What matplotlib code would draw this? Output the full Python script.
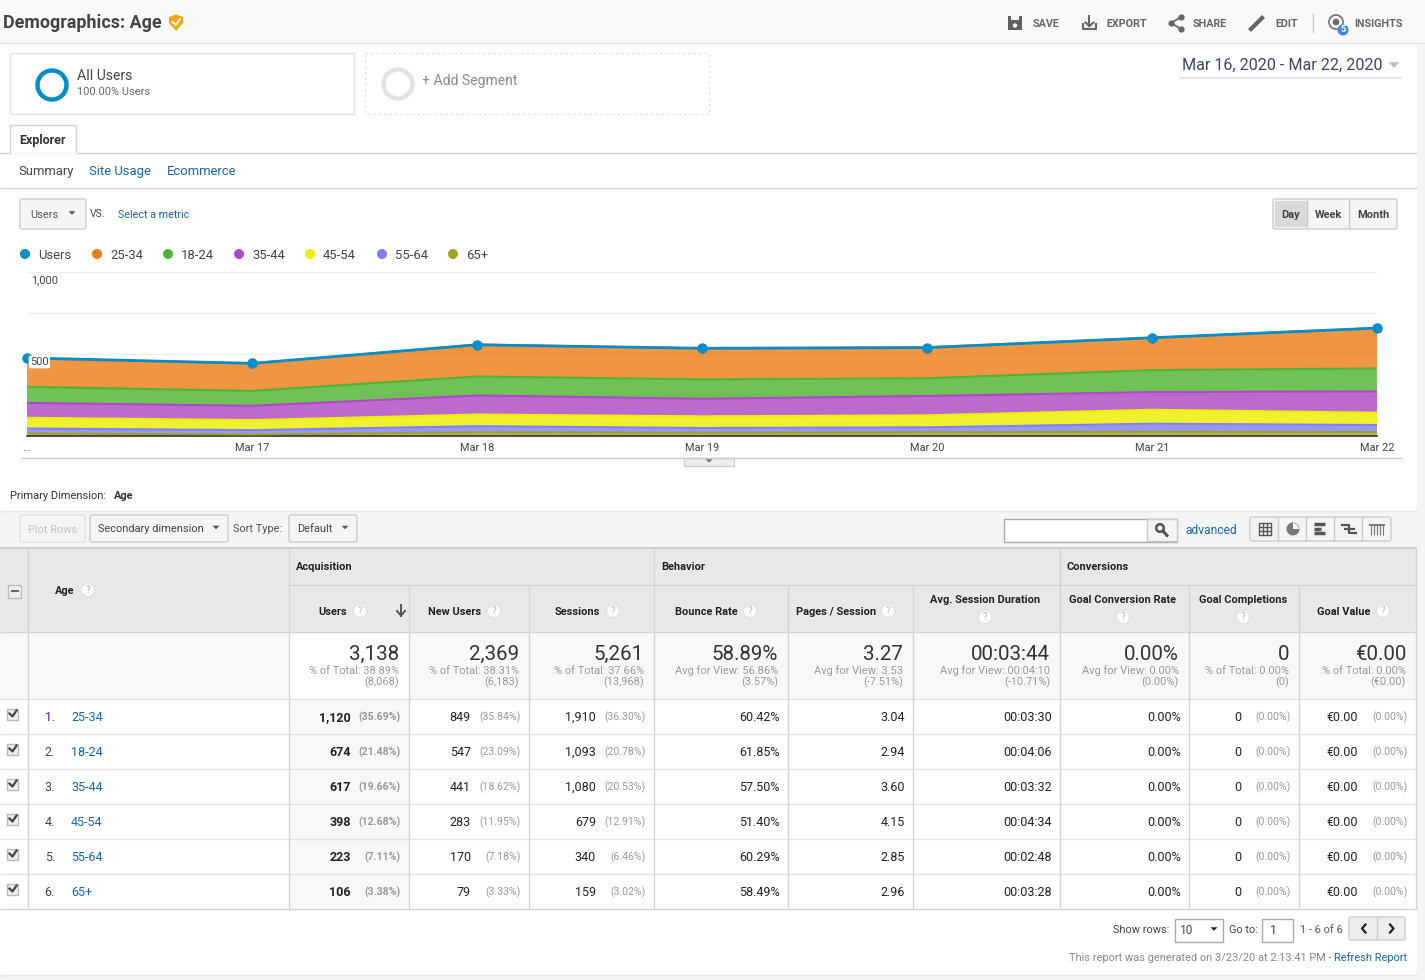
import matplotlib
matplotlib.use("Agg")
import matplotlib.pyplot as plt
from matplotlib.patches import Rectangle, Circle, Polygon, FancyBboxPatch, Wedge

plt.rcParams["font.family"] = ["Roboto", "DejaVu Sans"]

# chart data (stack order bottom to top)
dates = ["...", "Mar 17", "Mar 18", "Mar 19", "Mar 20", "Mar 21", "Mar 22"]
users = [476, 443, 556, 535, 539, 599, 658]
age_25_34 = [173, 167, 195, 189, 189, 197, 246]
age_18_24 = [98, 91, 116, 118, 108, 134, 140]
age_35_44 = [91, 87, 116, 107, 118, 108, 130]
age_45_54 = [65, 61, 71, 71, 73, 85, 75]
age_55_64 = [30, 26, 37, 29, 30, 49, 43]
age_65_up = [16, 10, 23, 20, 23, 26, 24]
legend_names = ["Users", "25-34", "18-24", "35-44", "45-54", "55-64", "65+"]

# table data
age_groups = ["25-34", "18-24", "35-44", "45-54", "55-64", "65+"]
col_users = ["1,120", "674", "617", "398", "223", "106"]
col_users_pct = ["(35.69%)", "(21.48%)", "(19.66%)", "(12.68%)", "(7.11%)", "(3.38%)"]
col_new = ["849", "547", "441", "283", "170", "79"]
col_new_pct = ["(35.84%)", "(23.09%)", "(18.62%)", "(11.95%)", "(7.18%)", "(3.33%)"]
col_sessions = ["1,910", "1,093", "1,080", "679", "340", "159"]
col_sessions_pct = ["(36.30%)", "(20.78%)", "(20.53%)", "(12.91%)", "(6.46%)", "(3.02%)"]
col_bounce = ["60.42%", "61.85%", "57.50%", "51.40%", "60.29%", "58.49%"]
col_pages = ["3.04", "2.94", "3.60", "4.15", "2.85", "2.96"]
col_duration = ["00:03:30", "00:04:06", "00:03:32", "00:04:34", "00:02:48", "00:03:28"]
col_rate = ["0.00%"] * 6
col_goals = ["0"] * 6
col_goals_pct = ["(0.00%)"] * 6
col_value = ["€0.00"] * 6
col_value_pct = ["(0.00%)"] * 6

total_big = ["3,138", "2,369", "5,261", "58.89%", "3.27", "00:03:44", "0.00%", "0", "€0.00"]
total_line1 = ["% of Total: 38.89%", "% of Total: 38.31%", "% of Total: 37.66%",
               "Avg for View: 56.86%", "Avg for View: 3.53", "Avg for View: 00:04:10",
               "Avg for View: 0.00%", "% of Total: 0.00%", "% of Total: 0.00%"]
total_line2 = ["(8,068)", "(6,183)", "(13,968)", "(3.57%)", "(-7.51%)", "(-10.71%)",
               "(0.00%)", "(0)", "(€0.00)"]

# colours
BLUE = "#058dc7"
LINK = "#1a66a8"
DARK = "#333333"
GREY = "#999999"
LINE = "#d4d4d4"
series_colors = ["#a0a424", "#8080ff", "#edef00", "#af49c5", "#50b432", "#ed7e17"]
legend_colors = [BLUE, "#ed7e17", "#50b432", "#af49c5", "#edef00", "#8080ff", "#a0a424"]

W, H = 1425, 980
fig = plt.figure(figsize=(W / 100, H / 100), dpi=100, facecolor="white")

# full size axes in pixel coordinates for the page around the chart
ui = fig.add_axes([0, 0, 1, 1])
ui.set_xlim(0, W)
ui.set_ylim(H, 0)
ui.axis("off")


def txt(x, y, s, px=12, color=DARK, ha="left", weight="normal"):
    ui.text(x, y + 0.7, s, fontsize=px * 0.72, color=color, ha=ha, va="center",
            fontweight=weight, zorder=7)


def box(x0, y0, x1, y1, fc="white", ec="none", lw=1, ls="-", z=1):
    ui.add_patch(Rectangle((x0, y0), x1 - x0, y1 - y0, facecolor=fc, edgecolor=ec,
                           linewidth=lw, linestyle=ls, zorder=z))


def button(x0, y0, x1, y1, fc="#f5f5f5", ec="#cccccc"):
    ui.add_patch(FancyBboxPatch((x0 + 2, y0 + 2), x1 - x0 - 4, y1 - y0 - 4,
                                boxstyle="round,pad=2", facecolor=fc, edgecolor=ec,
                                linewidth=1, zorder=2))


def hline(y, x0, x1, color=LINE, lw=1, z=3):
    # half a pixel up so the line lands on the same row as the reference
    ui.plot([x0, x1], [y - 0.5, y - 0.5], color=color, lw=lw, zorder=z, solid_capstyle="butt")


def vline(x, y0, y1, color=LINE, lw=1, z=3):
    ui.plot([x, x], [y0, y1], color=color, lw=lw, zorder=z, solid_capstyle="butt")


def tri_down(x, y, size=4, color="#555555"):
    ui.add_patch(Polygon([(x - size, y - size / 2), (x + size, y - size / 2), (x, y + size / 2)],
                         closed=True, facecolor=color, edgecolor="none", zorder=5))


def help_dot(x, y):
    ui.add_patch(Circle((x, y), 6.5, facecolor="white", edgecolor="#e2e2e2", lw=0.8, zorder=5))
    ui.text(x, y, "?", fontsize=7, color="#b5b5b5", ha="center", va="center", zorder=6)


# page background and top bar
box(0, 0, W, 43, fc="#f8f9fa")
hline(43.5, 0, W, color="#e3e4e6")
box(1417, 43, W, H, fc="#f4f5f7")
box(0, 975, W, H, fc="#f4f5f7")
hline(975, 0, 1417, color="#e3e4e6")

txt(3, 22.5, "Demographics: Age", px=17.9, color="#444444", weight="bold")
ui.add_patch(Polygon([(169, 17), (176, 14.5), (183, 17), (183, 23), (176, 31), (169, 23)],
                     closed=True, facecolor="#f5a800", zorder=4))
ui.plot([172.5, 175.5, 180], [22, 25, 19], color="white", lw=1.3, zorder=5)

# toolbar
for x, s in zip([1033, 1106, 1193, 1275, 1354], ["SAVE", "EXPORT", "SHARE", "EDIT", "INSIGHTS"]):
    txt(x, 23, s, px=10.8, color="#666666", weight="bold")
box(1008, 16, 1022, 30, fc="#616161")
box(1011, 16, 1019, 20.5, fc="#f8f9fa")
ui.add_patch(Circle((1015, 25.5), 2.2, facecolor="#f8f9fa", zorder=4))
ui.plot([1083, 1083, 1096, 1096], [24, 29.5, 29.5, 24], color="#666666", lw=1.5, zorder=4)
ui.plot([1089.5, 1089.5], [16, 26], color="#666666", lw=1.5, zorder=4)
ui.plot([1085.5, 1089.5, 1093.5], [22.5, 26, 22.5], color="#666666", lw=1.5, zorder=4)
ui.plot([1181, 1171, 1181], [17, 23, 29], color="#666666", lw=1.3, marker="o", ms=3.5, zorder=4)
ui.plot([1251, 1262], [29, 18], color="#666666", lw=3, zorder=4)
vline(1313.5, 13, 33, color="#cccccc")
ui.add_patch(Circle((1336, 22), 7, facecolor="none", edgecolor="#777777", lw=1.3, zorder=4))
ui.add_patch(Circle((1336, 22), 3.3, facecolor="#666666", zorder=4))
ui.add_patch(Circle((1343, 30), 5.5, facecolor="#3f84f1", zorder=5))
ui.text(1343, 30, "5", fontsize=6.5, color="white", ha="center", va="center",
        fontweight="bold", zorder=6)

# segment cards
box(10.5, 53.5, 354.5, 114.5, ec="#e3e3e3")
ui.add_patch(Circle((52, 85), 14.5, facecolor="white", edgecolor=BLUE, lw=3.2, zorder=3))
txt(77, 75, "All Users", px=14, color="#444444")
txt(77, 91, "100.00% Users", px=11, color="#666666")
box(365.5, 53.5, 709.5, 114.5, ec="#e3e3e3", ls=(0, (2, 2)))
ui.add_patch(Circle((398, 84), 14.5, facecolor="white", edgecolor="#e2e2e2", lw=3.2, zorder=3))
txt(422, 80, "+ Add Segment", px=14, color="#888888")

# date range
txt(1182, 65, "Mar 16, 2020 - Mar 22, 2020", px=16.1, color="#3a4a5a")
tri_down(1394, 65, size=5.5, color="#bdbdbd")
hline(78.5, 1179, 1402, color="#e6e6e6", lw=1.5)

# tabs
hline(154, 0, 1417)
box(10.5, 125.5, 76.5, 153.5, fc="white", ec=LINE, z=4)
hline(154, 11, 76, color="white", z=5)
txt(19, 140, "Explorer", px=12.5, color="#333333", weight="bold")
txt(18, 171, "Summary", px=13, color="#444444")
txt(89.5, 171, "Site Usage", px=13, color=LINK)
txt(167, 171, "Ecommerce", px=13, color=LINK)
hline(189, 0, 1417)

# metric picker and day / week / month
button(20, 199, 86, 229)
txt(30, 214, "Users", px=11, color="#555555")
tri_down(72, 213, size=3.5)
txt(90, 213, "VS.", px=10.5, color="#444444")
txt(118, 214, "Select a metric", px=10.7, color=LINK)
button(1273, 199, 1397, 229)
box(1275, 201, 1307, 227, fc="#d9d9d9", z=3)
vline(1307.5, 199, 229, color="#cccccc")
vline(1349.5, 199, 229, color="#cccccc")
for x, s in zip([1291, 1328.5, 1373], ["Day", "Week", "Month"]):
    txt(x, 214, s, px=11, color="#444444", ha="center", weight="bold")

# legend
for x, s, c in zip([25, 97, 168, 239, 310, 382, 453], legend_names, legend_colors):
    ui.add_patch(Circle((x, 254), 5, facecolor=c, zorder=4))
    txt(x + 13, 254.5, s, px=13, color="#444444")

# chart axes, lined up with the plot area of the page
x0, x1, y_top, y_base = 27, 1377, 272, 436
ax = fig.add_axes([x0 / W, 1 - y_base / H, (x1 - x0) / W, (y_base - y_top) / H])
ax.patch.set_alpha(0)
ax.set_zorder(5)
days = list(range(len(dates)))
ax.stackplot(days, age_65_up, age_55_64, age_45_54, age_35_44, age_18_24, age_25_34,
             colors=series_colors, alpha=0.82, linewidth=0)

# darker line on top of each layer
running = [0] * len(days)
for vals, c in zip([age_65_up, age_55_64, age_45_54, age_35_44, age_18_24, age_25_34], series_colors):
    running = [a + b for a, b in zip(running, vals)]
    ax.plot(days, running, color=c, lw=1.5, zorder=3)

ax.plot(days, users, color=BLUE, lw=2, marker="o", ms=6.5, clip_on=False, zorder=6)
ax.set_xlim(0, 6)
ax.set_ylim(0, 1000)
ax.set_yticks([0, 250, 500, 750, 1000])
ax.set_yticklabels([])
ax.grid(axis="y", color="#efefef", lw=1, zorder=0)
ax.set_axisbelow(True)
ax.tick_params(length=0)
ax.set_xticks(days)
ax.set_xticklabels(dates, fontsize=7.9, color="#444444")
ax.tick_params(axis="x", pad=5)
for side in ["top", "left", "right"]:
    ax.spines[side].set_visible(False)
ax.spines["bottom"].set_color("#333333")
ax.spines["bottom"].set_linewidth(1.2)
ax.annotate("1,000", (0, 1000), xytext=(4, -8), textcoords="offset pixels", fontsize=7.9,
            color="#444444", va="center", zorder=7)
ax.annotate("500", (0, 500), xytext=(3, -8), textcoords="offset pixels", fontsize=7.9,
            color="#444444", va="center", zorder=7,
            bbox=dict(boxstyle="round,pad=0.12", fc="white", ec="none"))

hline(458, 21, 1402, color="#cccccc")
box(684, 458, 734, 466, fc="#eeeeee", ec="#cccccc")
tri_down(709, 461, size=3.5, color="#777777")

# primary dimension
txt(10, 495, "Primary Dimension:", px=11, color="#333333")
txt(114, 495, "Age", px=11, color="#333333", weight="bold")

# table toolbar
box(0, 511, 1417, 548, fc="#f5f5f5")
hline(511, 0, 1417, color="#e4e4e4")
button(20, 515, 85, 542, fc="#f5f5f5", ec="#e0e0e0")
txt(28, 529, "Plot Rows", px=11, color="#c4c4c4")
button(90, 515, 228, 542)
txt(98, 528, "Secondary dimension", px=11, color="#444444")
tri_down(216, 527.5, size=3.5)
txt(233.5, 528, "Sort Type:", px=11, color="#555555")
button(289, 515, 357, 542)
txt(297, 528, "Default", px=11, color="#444444")
tri_down(345, 527.5, size=3.5)
box(1004.5, 518.5, 1177.5, 541.5, fc="white", ec="#aaaaaa", z=2)
box(1147.5, 519, 1177, 541, fc="#f5f5f5", ec="#cccccc", z=3)
ui.add_patch(Circle((1160, 528), 3.8, facecolor="none", edgecolor="#555555", lw=1.8, zorder=5))
ui.plot([1163, 1167], [531, 535.5], color="#555555", lw=2.2, zorder=5)
txt(1185, 529.5, "advanced", px=12, color=LINK)
button(1250, 517, 1391, 541)
box(1252, 519, 1278, 539, fc="#f0f0f0", z=3)
for x in [1278.5, 1306.5, 1334.5, 1362.5]:
    vline(x, 517, 541, color="#cccccc")
# view icons
box(1259, 523, 1271, 535, fc="none", ec="#555555", z=5)
vline(1263, 523, 535, color="#555555", z=5)
vline(1267, 523, 535, color="#555555", z=5)
hline(527, 1259, 1271, color="#555555", z=5)
hline(531, 1259, 1271, color="#555555", z=5)
ui.add_patch(Circle((1293, 529), 6.5, facecolor="#777777", zorder=5))
ui.add_patch(Wedge((1293, 529), 6, 270, 360, facecolor="#f5f5f5", zorder=6))
for y, x_end in zip([524.5, 529, 533.5], [1325, 1321, 1325]):
    hline(y, 1314, x_end, color="#555555", lw=2.5, z=5)
ui.plot([1342, 1349, 1349, 1356], [525, 525, 533, 533], color="#555555", lw=1.6, zorder=5)
ui.plot([1345, 1354], [529, 529], color="#555555", lw=1.6, zorder=5)
for x in [1371, 1374, 1377, 1380, 1383]:
    vline(x, 525, 535, color="#777777", lw=0.8, z=5)
hline(525, 1369, 1385, color="#666666", lw=1.2, z=5)

# table geometry
col_x = [28.5, 289.5, 409.5, 529.5, 654.5, 788.5, 913.5, 1060.5, 1189.5, 1299.5, 1416.5]
row_y = [699.5, 734.5, 769.5, 804.5, 839.5, 874.5, 909.5]

# header and totals backgrounds
box(0, 548, 1417, 632, fc="#e8e8e8")
box(0, 632, 1417, 699, fc="#f8f8f8")
box(289.5, 632, 409.5, 699, fc="white")
box(289.5, 699, 409.5, 909, fc="#f8f8f8")

hline(548.5, 0, 1417, color="#d0d0d0", lw=1.5)
hline(585.5, 289.5, 1417, color=LINE)
hline(632.5, 0, 1417, color=LINE)
for y in row_y[:-1]:
    hline(y, 0, 1417, color="#e3e3e3")
hline(909.5, 0, 1417, color=LINE)
for x in col_x:
    top = 585 if x not in (28.5, 289.5, 654.5, 1060.5, 1416.5) else 548
    vline(x, top, 909, color=LINE)

# header labels
txt(296, 566, "Acquisition", px=11, color="#222222", weight="bold")
txt(661, 566, "Behavior", px=11, color="#222222", weight="bold")
txt(1067, 566, "Conversions", px=11, color="#222222", weight="bold")
txt(55, 590, "Age", px=11, color="#222222", weight="bold")
help_dot(88, 590)
box(8.5, 584.5, 21.5, 597.5, fc="#eeeeee", ec="#bbbbbb", z=4)
hline(591.5, 11, 19, color="#666666", lw=1.5, z=5)

head_one_line = [("Users", 318, 360), ("New Users", 428, 494), ("Sessions", 555, 613),
                 ("Bounce Rate", 675, 750), ("Pages / Session", 796, 888), ("Goal Value", 1317, 1383)]
for s, x, x_help in head_one_line:
    txt(x, 611, s, px=11, color="#222222", weight="bold")
    help_dot(x_help, 611)
head_two_line = [("Avg. Session Duration", 985), ("Goal Conversion Rate", 1123), ("Goal Completions", 1243)]
for s, x in head_two_line:
    txt(x, 599, s, px=11, color="#222222", ha="center", weight="bold")
    help_dot(x, 617)
ui.plot([401, 401], [605, 615.5], color="#555555", lw=1.4, zorder=5)
ui.plot([397, 401, 405], [611, 615.5, 611], color="#555555", lw=1.4, zorder=5)

# totals row
for i, right in enumerate(col_x[2:]):
    rx = right - 10.5
    txt(rx, 653.5, total_big[i], px=20.5, color="#333333", ha="right")
    txt(rx, 670, total_line1[i], px=11, color=GREY, ha="right")
    txt(rx, 682, total_line2[i], px=11, color=GREY, ha="right")

# data rows
value_cols = [(col_users, 351, "bold"), (col_new, 471, "normal"), (col_sessions, 596, "normal"),
              (col_bounce, 780, "normal"), (col_pages, 905, "normal"), (col_duration, 1052, "normal"),
              (col_rate, 1181, "normal"), (col_goals, 1241, "normal"), (col_value, 1358, "normal")]
pct_cols = [(col_users_pct, 401, "bold"), (col_new_pct, 521, "normal"), (col_sessions_pct, 646, "normal"),
            (col_goals_pct, 1291, "normal"), (col_value_pct, 1408, "normal")]
for r in range(len(age_groups)):
    yc = row_y[r] + 17
    box(7.5, yc - 8, 18.5, yc + 3, fc="#eeeeee", ec="#bbbbbb", z=4)
    ui.plot([9.5, 12.5, 16.5], [yc - 3, yc, yc - 6], color="#444444", lw=1.6, zorder=5)
    txt(55, yc, f"{r + 1}.", px=12.5, color="#551a8b" if r == 0 else "#444444", ha="right")
    txt(71, yc, age_groups[r], px=12.5, color=LINK)
    for vals, rx, w in value_cols:
        txt(rx, yc, vals[r], px=12.5, color="#222222", ha="right", weight=w)
    for vals, rx, w in pct_cols:
        txt(rx, yc + 0.5, vals[r], px=10.5, color=GREY, ha="right", weight=w)

# pager and footer
txt(1169, 929, "Show rows:", px=11, color="#444444", ha="right")
box(1175.5, 918.5, 1223.5, 941.5, fc="white", ec="#aaaaaa")
txt(1180, 930, "10", px=12, color="#444444")
tri_down(1214, 929, size=3.5, color="#222222")
txt(1229, 929, "Go to:", px=11, color="#444444")
box(1262.5, 918.5, 1293.5, 941.5, fc="white", ec="#aaaaaa")
txt(1270, 930, "1", px=12, color="#551a8b")
txt(1300, 929, "1 - 6 of 6", px=11, color="#555555")
button(1349, 917, 1405, 940, fc="#eeeeee")
vline(1377, 917, 940, color="#cccccc")
ui.plot([1365.5, 1362, 1365.5], [924.5, 928.5, 932.5], color="#222222", lw=1.6, zorder=5)
ui.plot([1390, 1393.5, 1390], [924.5, 928.5, 932.5], color="#222222", lw=1.6, zorder=5)
txt(1331.5, 957, "This report was generated on 3/23/20 at 2:13:41 PM -", px=11, color="#888888", ha="right")
txt(1407, 957, "Refresh Report", px=11, color=LINK, ha="right")

fig.savefig("out.png", dpi=100)
plt.close(fig)
